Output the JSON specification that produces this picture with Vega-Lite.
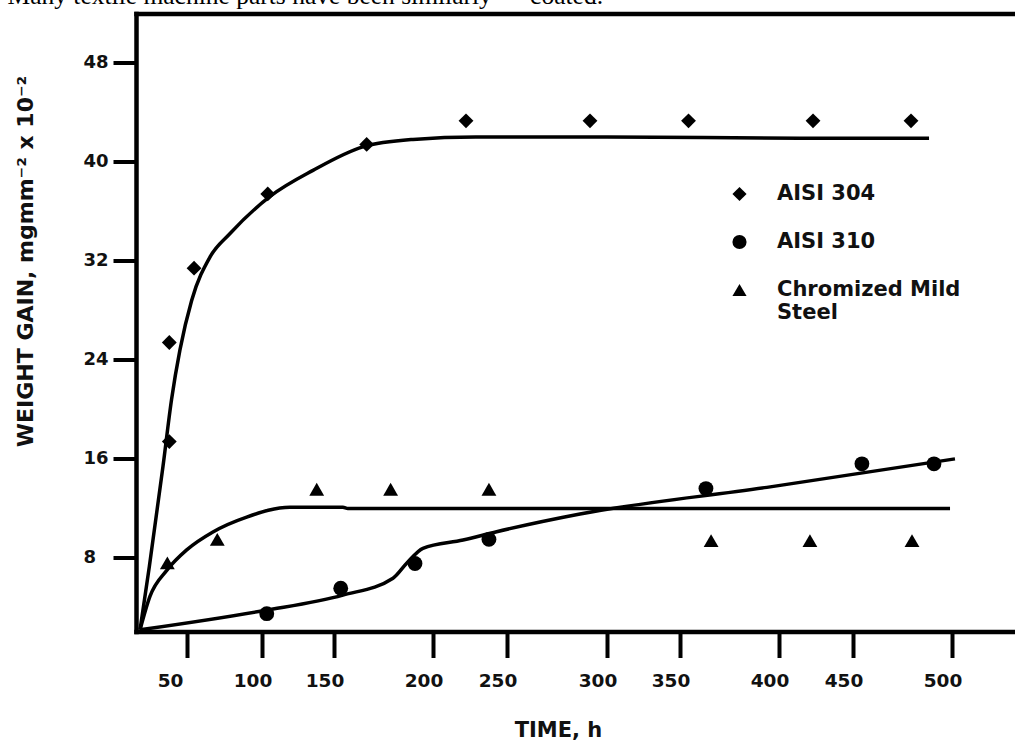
{
  "$schema": "https://vega.github.io/schema/vega-lite/v6.json",
  "autosize": "none",
  "padding": {"left": 136, "top": 13.5, "right": 0, "bottom": 110.5},
  "width": 879,
  "height": 618,
  "background": "white",
  "config": {"view": {"stroke": null}, "font": "DejaVu Sans"},
  "datasets": {
    "curves": [
      {"series": "AISI 304", "t": 18.7, "w": 2.2},
      {"series": "AISI 304", "t": 24.9, "w": 7.3},
      {"series": "AISI 304", "t": 34.0, "w": 15.4},
      {"series": "AISI 304", "t": 39.7, "w": 20.8},
      {"series": "AISI 304", "t": 45.3, "w": 24.8},
      {"series": "AISI 304", "t": 53.1, "w": 28.8},
      {"series": "AISI 304", "t": 65.3, "w": 32.3},
      {"series": "AISI 304", "t": 78.7, "w": 34.2},
      {"series": "AISI 304", "t": 105.6, "w": 37.2},
      {"series": "AISI 304", "t": 135.4, "w": 39.3},
      {"series": "AISI 304", "t": 164.6, "w": 41.2},
      {"series": "AISI 304", "t": 189.9, "w": 41.8},
      {"series": "AISI 304", "t": 229.0, "w": 42.0},
      {"series": "AISI 304", "t": 300.0, "w": 42.0},
      {"series": "AISI 304", "t": 414.0, "w": 41.9},
      {"series": "AISI 304", "t": 488.4, "w": 41.9},
      {"series": "AISI 310", "t": 18.7, "w": 2.2},
      {"series": "AISI 310", "t": 100.7, "w": 3.74},
      {"series": "AISI 310", "t": 154.5, "w": 5.0},
      {"series": "AISI 310", "t": 179.8, "w": 6.36},
      {"series": "AISI 310", "t": 186.7, "w": 7.57},
      {"series": "AISI 310", "t": 194.9, "w": 8.78},
      {"series": "AISI 310", "t": 220.3, "w": 9.45},
      {"series": "AISI 310", "t": 243.0, "w": 10.12},
      {"series": "AISI 310", "t": 286.5, "w": 11.55},
      {"series": "AISI 310", "t": 393.9, "w": 13.7},
      {"series": "AISI 310", "t": 501.5, "w": 16.0},
      {"series": "Chromized Mild Steel", "t": 18.7, "w": 2.2},
      {"series": "Chromized Mild Steel", "t": 25.3, "w": 4.9},
      {"series": "Chromized Mild Steel", "t": 36.5, "w": 7.0},
      {"series": "Chromized Mild Steel", "t": 49.8, "w": 8.65},
      {"series": "Chromized Mild Steel", "t": 67.3, "w": 10.1},
      {"series": "Chromized Mild Steel", "t": 89.8, "w": 11.3},
      {"series": "Chromized Mild Steel", "t": 119.4, "w": 12.1},
      {"series": "Chromized Mild Steel", "t": 154.5, "w": 12.1},
      {"series": "Chromized Mild Steel", "t": 157.0, "w": 12.0},
      {"series": "Chromized Mild Steel", "t": 499.0, "w": 12.0}
    ],
    "points": [
      {"series": "AISI 304", "t": 38.2, "w": 17.4},
      {"series": "AISI 304", "t": 38.2, "w": 25.4},
      {"series": "AISI 304", "t": 54.7, "w": 31.4},
      {"series": "AISI 304", "t": 104.0, "w": 37.4},
      {"series": "AISI 304", "t": 166.5, "w": 41.4},
      {"series": "AISI 304", "t": 222.3, "w": 43.3},
      {"series": "AISI 304", "t": 291.5, "w": 43.3},
      {"series": "AISI 304", "t": 354.3, "w": 43.3},
      {"series": "AISI 304", "t": 423.0, "w": 43.3},
      {"series": "AISI 304", "t": 479.3, "w": 43.3},
      {"series": "AISI 310", "t": 103.3, "w": 3.5},
      {"series": "AISI 310", "t": 153.4, "w": 5.55},
      {"series": "AISI 310", "t": 190.9, "w": 7.55},
      {"series": "AISI 310", "t": 237.8, "w": 9.5},
      {"series": "AISI 310", "t": 363.1, "w": 13.6},
      {"series": "AISI 310", "t": 454.5, "w": 15.6},
      {"series": "AISI 310", "t": 490.9, "w": 15.6},
      {"series": "Chromized Mild Steel", "t": 36.9, "w": 7.6},
      {"series": "Chromized Mild Steel", "t": 70.2, "w": 9.5},
      {"series": "Chromized Mild Steel", "t": 138.0, "w": 13.55},
      {"series": "Chromized Mild Steel", "t": 178.6, "w": 13.55},
      {"series": "Chromized Mild Steel", "t": 237.8, "w": 13.55},
      {"series": "Chromized Mild Steel", "t": 365.7, "w": 9.4},
      {"series": "Chromized Mild Steel", "t": 420.9, "w": 9.4},
      {"series": "Chromized Mild Steel", "t": 479.8, "w": 9.4}
    ]
  },
  "layer": [
    {
      "data": {"name": "curves"},
      "mark": {"type": "line", "interpolate": "monotone", "color": "black", "strokeWidth": 3.5},
      "encoding": {
        "x": {
          "field": "t", "type": "quantitative",
          "scale": {"type": "linear", "domain": [16, 50, 100, 150, 200, 250, 300, 350, 400, 450, 500, 531.8], "range": [0, 51, 126, 198, 297, 371, 471, 544, 643, 717, 816, 879], "nice": false, "zero": false},
          "axis": {
            "orient": "bottom",
            "values": [50, 100, 150, 200, 250, 300, 350, 400, 450, 500],
            "grid": false,
            "domainColor": "black", "domainWidth": 4.5, "domainCap": "square",
            "tickColor": "black", "tickWidth": 4, "tickSize": 26,
            "labelFont": "DejaVu Sans", "labelFontWeight": "bold", "labelFontSize": 18.5, "labelColor": "#111111",
            "labelBaseline": "alphabetic", "labelPadding": 28.5, "labelFlush": false, "labelOverlap": false,
            "labelOffset": {"expr": "datum.value === 50 ? -17 : -9.5"},
            "title": "TIME, h",
            "titleFont": "DejaVu Sans", "titleFontWeight": "bold", "titleFontSize": 21, "titleColor": "#111111",
            "titleX": 422, "titleY": 105, "titleBaseline": "alphabetic", "titleAlign": "center"
          }
        },
        "y": {
          "field": "w", "type": "quantitative",
          "scale": {"domain": [2.06, 51.97], "nice": false, "zero": false},
          "axis": {
            "values": [8, 16, 24, 32, 40, 48],
            "grid": false,
            "domainColor": "black", "domainWidth": 4.5, "domainCap": "square",
            "tickColor": "black", "tickWidth": 4, "tickSize": 23,
            "labelFont": "DejaVu Sans", "labelFontWeight": "bold", "labelFontSize": 18, "labelColor": "#111111",
            "labelAlign": "left", "labelPadding": 30, "labelBaseline": "middle",
            "title": "WEIGHT GAIN, mgmm\u207b\u00b2 x 10\u207b\u00b2",
            "titleFont": "DejaVu Sans", "titleFontWeight": "bold", "titleFontSize": 22, "titleColor": "#111111",
            "titleAngle": -90, "titleX": -103.5, "titleY": 247.5, "titleBaseline": "alphabetic", "titleAlign": "center"
          }
        },
        "detail": {"field": "series"}
      }
    },
    {
      "data": {"name": "points"},
      "mark": {"type": "point", "filled": true, "color": "black", "opacity": 1, "size": 220},
      "encoding": {
        "x": {
          "field": "t", "type": "quantitative",
          "scale": {"type": "linear", "domain": [16, 50, 100, 150, 200, 250, 300, 350, 400, 450, 500, 531.8], "range": [0, 51, 126, 198, 297, 371, 471, 544, 643, 717, 816, 879], "nice": false, "zero": false},
          "axis": {
            "orient": "top", "ticks": false, "labels": false, "grid": false,
            "domainColor": "black", "domainWidth": 4.5, "domainCap": "square",
            "title": "Many textile machine parts have been similarly\u00a0\u00a0\u00a0\u00a0\u00a0\u00a0coated.",
            "titleFont": "Liberation Serif", "titleFontSize": 25.5, "titleFontWeight": "normal", "titleColor": "black",
            "titleX": -129, "titleY": -10.5, "titleAlign": "left", "titleBaseline": "alphabetic", "titleAngle": 0, "titleLimit": 1000
          }
        },
        "y": {"field": "w", "type": "quantitative", "scale": {"domain": [2.06, 51.97], "nice": false, "zero": false}},
        "shape": {
          "field": "series", "type": "nominal",
          "scale": {"domain": ["AISI 304", "AISI 310", "Chromized Mild Steel"], "range": ["diamond", "circle", "triangle-up"]},
          "legend": {
            "orient": "none", "legendX": 593, "legendY": 170, "title": null, "padding": 0,
            "labelFont": "DejaVu Sans", "labelFontWeight": "bold", "labelFontSize": 21, "labelColor": "#111111",
            "labelLimit": 400, "labelOffset": 27,
            "symbolSize": 200, "symbolFillColor": "black", "symbolStrokeColor": "black", "symbolStrokeWidth": 0,
            "rowPadding": 26,
            "labelExpr": "datum.label == 'Chromized Mild Steel' ? ['Chromized Mild', 'Steel'] : datum.label"
          }
        }
      }
    }
  ],
  "resolve": {"axis": {"x": "independent"}}
}
